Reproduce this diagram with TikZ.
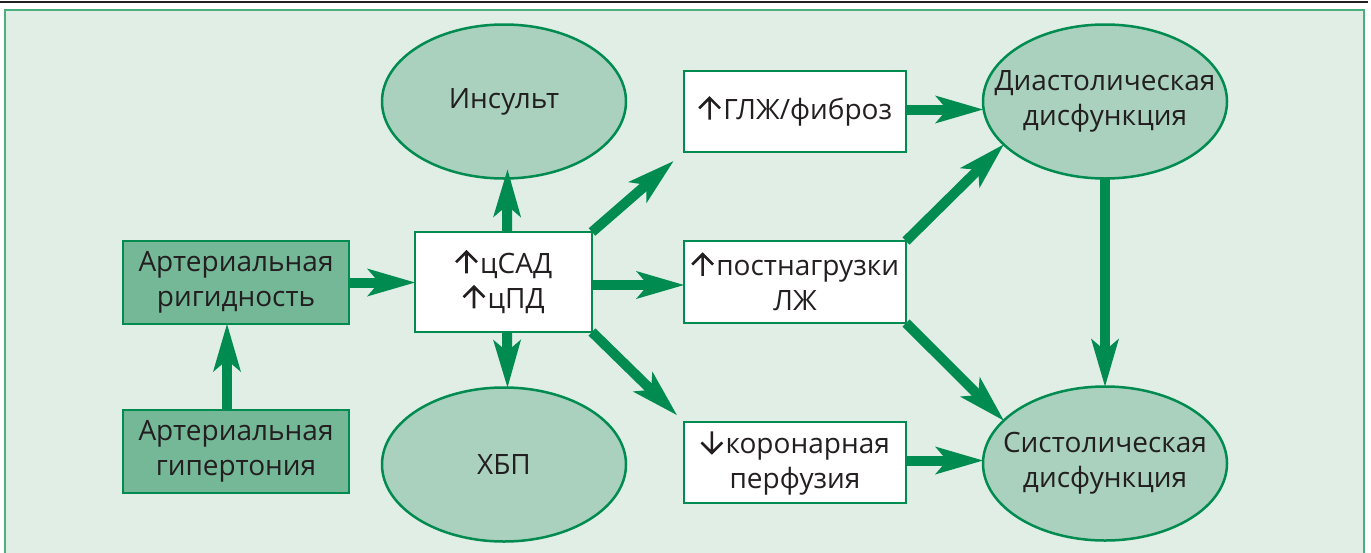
\documentclass[tikz,border=0pt]{standalone}
\usepackage{fontspec}
\setmainfont{Open Sans}
\usetikzlibrary{shapes.geometric,arrows.meta}
\definecolor{bgmint}{HTML}{E0EEE5}
\definecolor{framegreen}{HTML}{4DAE7E}
\definecolor{darkgreen}{HTML}{008B50}
\definecolor{ovalfill}{HTML}{A9D1BE}
\definecolor{boxfill}{HTML}{74B898}
\definecolor{ink}{HTML}{231F20}
% small stroked arrows used in front of the box labels
\newcommand{\up}{\tikz[baseline=0pt,x=1pt,y=1pt]
  \draw[ink,line width=1.3pt,line join=miter] (0,0) -- (0,10.8) (-5.2,5.6) -- (0,10.8) -- (5.2,5.6);\hspace{1pt}}
\newcommand{\down}{\tikz[baseline=0pt,x=1pt,y=1pt]
  \draw[ink,line width=1.3pt,line join=miter] (0,11) -- (0,0.2) (-5.2,5.4) -- (0,0.2) -- (5.2,5.4);\hspace{1pt}}
\begin{document}
\begin{tikzpicture}[x=0.5pt,y=-0.5pt,
  every node/.style={font=\fontsize{14}{17.5}\selectfont, text=ink, align=center,
                     inner sep=0pt, outer sep=0pt},
  whitebox/.style={draw=darkgreen, line width=1.25pt, fill=white,
                   minimum width=111pt, minimum height=40.5pt},
  greenbox/.style={draw=darkgreen, line width=1.25pt, fill=boxfill,
                   minimum width=113pt, minimum height=41.5pt},
  oval/.style={ellipse, draw=darkgreen, line width=1.25pt, fill=ovalfill,
               inner xsep=-24pt, inner ysep=-8pt,
               minimum width=122pt, minimum height=77pt},
  arr/.style={draw=darkgreen, line width=5pt,
              -{Stealth[length=24pt, width=14pt, inset=6pt, line width=0pt]}},
]
\useasboundingbox (0,0) rectangle (1371,552);
\clip (0,0) rectangle (1371,552);
\fill[white] (0,0) rectangle (1371,552);

% panel background, frame and rule on top
\fill[bgmint] (5,10) rectangle (1364,560);
\draw[framegreen, line width=1pt] (5,560) -- (5,10) -- (1364,10) -- (1364,560);
\draw[ink, line width=1pt] (0,1.5) -- (1368,1.5);

% nodes
\node[greenbox] (rig) at (236,282.5) {Артериальная\\ригидность};
\node[greenbox] (hyp) at (236,451.5) {Артериальная\\гипертония};
\node[whitebox, minimum width=88.5pt, minimum height=50pt] (cap) at (503.5,282)
  {\up цСАД\\\up цПД};
\node[whitebox] (lvh) at (795,111.5) {\up ГЛЖ/фиброз};
\node[whitebox, minimum height=41pt] (after) at (795,282) {\up постнагрузки\\ЛЖ};
\node[whitebox] (cor) at (795,462.5) {\down коронарная\\перфузия};
\node[oval] (stroke) at (504,101.5) {Инсульт};
\node[oval] (ckd) at (504,464.5) {ХБП};
\node[oval] (dia) at (1105,101.5) {Диастолическая\\дисфункция};
\node[oval] (sys) at (1105,463.5) {Систолическая\\дисфункция};

% connectors
\draw[arr] ([xshift=-4.5pt]hyp.north) -- ([xshift=-4.5pt]rig.south);
\draw[arr] (rig.east) -- (rig.east -| cap.west);
\draw[arr] ([xshift=1.75pt]cap.north) -- ([xshift=1.75pt,yshift=4.5pt]stroke.south);
\draw[arr] ([xshift=1.75pt]cap.south) -- ([xshift=1.75pt]ckd.north);
\draw[arr] ([yshift=-1.5pt]cap.east) -- ([yshift=-1.5pt]cap.east -| after.west);
\draw[arr, shorten >=7pt] (cap.north east) -- (lvh.south west);
\draw[arr, shorten >=5pt] (cap.south east) -- (cor.north west);
\draw[arr] ([yshift=1pt]lvh.east) -- ([yshift=1pt]lvh.east -| dia.west);
\draw[arr] (after.north east) -- (dia.203);
\draw[arr] (after.south east) -- (sys.157);
\draw[arr] ([yshift=1pt]cor.east) -- ([yshift=1pt]cor.east -| sys.west);
\draw[arr] (dia.south) -- (sys.north);
\end{tikzpicture}
\end{document}
